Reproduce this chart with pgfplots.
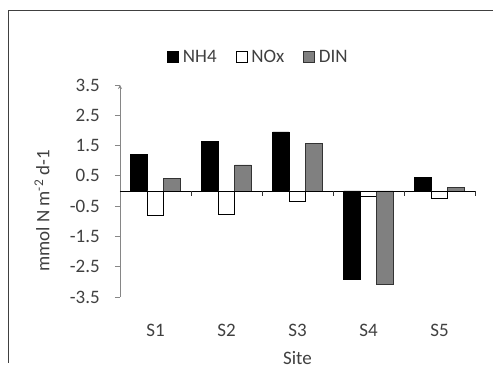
\documentclass[border=0pt]{standalone}
\usepackage{pgfplots}
\pgfplotsset{compat=1.18}
\usepackage{fontspec}
\setmainfont{Carlito}
\definecolor{txt}{HTML}{404040}
\definecolor{axgray}{HTML}{868686}
\definecolor{dingray}{HTML}{808080}
\begin{document}
\begin{tikzpicture}[x=1pt,y=1pt]
\useasboundingbox (0,0) rectangle (493,374);
\draw[black!75, line width=0.8pt] (8,11) -- (8,364) -- (500,364);
\begin{axis}[
  at={(120pt,77pt)}, anchor=south west,
  scale only axis, width=355pt, height=212pt,
  xmin=-0.5, xmax=4.5, ymin=-3.5, ymax=3.5,
  ybar=0pt, bar width=16.6pt,
  axis lines=left,
  x axis line style={draw=none},
  y axis line style={draw=axgray, line width=0.8pt},
  xtick={0,1,2,3,4}, xticklabels={S1,S2,S3,S4,S5},
  xtick style={draw=none},
  ytick={-3.5,-2.5,-1.5,-0.5,0.5,1.5,2.5,3.5},
  yticklabels={-3.5,-2.5,-1.5,-0.5,0.5,1.5,2.5,3.5},
  ytick style={draw=axgray, line width=0.8pt},
  major tick length=5pt,
  tick align=outside,
  tick label style={font=\fontsize{19}{21}\selectfont, text=txt},
  xticklabel style={anchor=center, yshift=-28pt},
  yticklabel style={anchor=east, inner sep=0pt, xshift=-15pt},
  ylabel={mmol N m\textsuperscript{-2} d-1},
  ylabel style={at={(axis description cs:-0.2197,0.406)}, anchor=center, font=\fontsize{19}{21}\selectfont, text=txt},
  xlabel={Site},
  xlabel style={at={(axis description cs:0.5,-0.288)}, anchor=center, font=\fontsize{19}{21}\selectfont, text=txt},
  legend style={at={(axis description cs:0.39,1.13)}, anchor=center, draw=none, fill=none,
    font=\fontsize{19}{21}\selectfont, text=txt, legend columns=3,
    /tikz/every even column/.append style={column sep=17pt},
    /tikz/every odd column/.append style={column sep=2pt}},
  legend image code/.code={\draw[#1, line width=0.6pt] (0pt,-5pt) rectangle (11pt,6pt);},
  clip=false,
]
\addplot[fill=black, draw=black, line width=0.6pt] coordinates {(0,1.22) (1,1.65) (2,1.95) (3,-2.91) (4,0.45)};
\addplot[fill=white, draw=black, line width=0.6pt] coordinates {(0,-0.80) (1,-0.77) (2,-0.33) (3,-0.16) (4,-0.25)};
\addplot[fill=dingray, draw=black!80, line width=0.6pt] coordinates {(0,0.41) (1,0.86) (2,1.57) (3,-3.09) (4,0.11)};
\legend{NH4,NOx,DIN}
\draw[black, line width=0.8pt] (axis cs:-0.5,0) -- (axis cs:4.5,0);
\draw[black!80, line width=0.8pt] (axis cs:0.5,0) -- ([yshift=-5pt]axis cs:0.5,0);
\draw[black!80, line width=0.8pt] (axis cs:1.5,0) -- ([yshift=-5pt]axis cs:1.5,0);
\draw[black!80, line width=0.8pt] (axis cs:2.5,0) -- ([yshift=-5pt]axis cs:2.5,0);
\draw[black!80, line width=0.8pt] (axis cs:3.5,0) -- ([yshift=-5pt]axis cs:3.5,0);
\draw[black!80, line width=0.8pt] (axis cs:4.5,0) -- ([yshift=-5pt]axis cs:4.5,0);
\end{axis}
\end{tikzpicture}
\end{document}
